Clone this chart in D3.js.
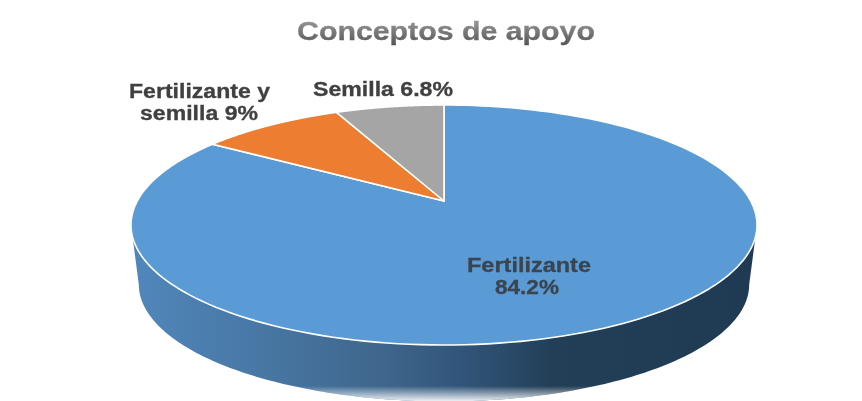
<!DOCTYPE html>
<html lang="es">
<head>
<meta charset="UTF-8">
<title>Conceptos de apoyo</title>
<script src="https://d3js.org/d3.v7.min.js"></script>
<style>
    html,body{margin:0;padding:0;background:#fff;}
    svg{display:block;}
    text{font-family:"Liberation Sans",Arial,sans-serif;font-weight:bold;}
</style>
</head>
<body>
<svg id="chart" width="862" height="401"></svg>
<script>
const categories = ['Fertilizante', 'Fertilizante y semilla', 'Semilla'];
const values = [84.2, 9, 6.8];
const colors = ['#5b9bd5', '#ed7d31', '#a5a5a5'];

const width = 862, height = 401;
const cx = 444, cy = 201;          // where the slices meet
const rx = 306.7, ry = 115.2;      // disc size before perspective
const persp = 0.2;                 // near edge looks bigger than far edge
const depth = 60;

const svg = d3.select('#chart');
const defs = svg.append('defs');

// circle point -> screen, angle 0 at the top going clockwise
function project(a, scale = 1, dy = 0) {
    const u = Math.sin(a), v = -Math.cos(a);
    const w = 1 - persp * v;
    return [cx + scale * rx * u / w, cy + dy + scale * ry * v / w];
}

const line = d3.line();
const pie = d3.pie().sort(null).value(d => d)(values);
const rim = (a0, a1, scale, dy) => d3.range(0, 1.0001, 1 / 180)
    .map(t => project(a0 + (a1 - a0) * t, scale, dy));

// side wall shading
const wallGrad = defs.append('linearGradient')
    .attr('id', 'wall').attr('gradientUnits', 'userSpaceOnUse')
    .attr('x1', 131).attr('x2', 757).attr('y1', 0).attr('y2', 0);
[[0, '#5087bb'], [0.2, '#4878a5'], [0.4, '#3f668c'], [0.53, '#31557a'], [0.67, '#233f58'], [1, '#1f3a52']]
    .forEach(s => wallGrad.append('stop').attr('offset', s[0]).attr('stop-color', s[1]));

const fade = defs.append('linearGradient')
    .attr('id', 'fade').attr('gradientUnits', 'userSpaceOnUse')
    .attr('x1', 0).attr('x2', 0).attr('y1', 386).attr('y2', 401);
fade.append('stop').attr('offset', 0).attr('stop-color', '#fff').attr('stop-opacity', 0);
fade.append('stop').attr('offset', 1).attr('stop-color', '#fff').attr('stop-opacity', 0.9);

// wall runs between the widest points of the disc
const aLeft = Math.acos(-persp), aRight = 2 * Math.PI - aLeft;
const wallPts = rim(aLeft, aRight, 1, 0).concat(rim(aRight, aLeft, 0.975, depth));
svg.append('path').attr('d', line(wallPts) + 'Z').attr('fill', 'url(#wall)');
svg.append('path').attr('d', line(wallPts) + 'Z').attr('fill', 'url(#fade)');

// top face
svg.selectAll('.slice')
    .data(pie)
    .join('path')
    .attr('class', 'slice')
    .attr('fill', (d, i) => colors[i])
    .attr('stroke', '#fff')
    .attr('stroke-width', 1.6)
    .attr('stroke-linejoin', 'round')
    .attr('d', d => line([[cx, cy]].concat(rim(d.startAngle, d.endAngle))) + 'Z');

// text
const blur = defs.append('filter').attr('id', 'soft');
blur.append('feGaussianBlur').attr('stdDeviation', 0.4);

const titleGrad = defs.append('linearGradient')
    .attr('id', 'titleFill').attr('x1', 0).attr('x2', 0).attr('y1', 0).attr('y2', 1);
titleGrad.append('stop').attr('offset', 0).attr('stop-color', '#a0a0a0');
titleGrad.append('stop').attr('offset', 1).attr('stop-color', '#555555');

const labelText = ['Conceptos de apoyo', 'Fertilizante y', 'semilla 9%', 'Semilla 6.8%', 'Fertilizante', '84.2%'];
const labelX = [446, 199.5, 199, 383, 529, 527];
const labelY = [40, 98, 120, 96, 272, 294];
const labelLen = [298, 141, 118, 140, 124, 64];
const labelSize = [25, 20, 20, 20, 20, 20];
const labelFill = ['url(#titleFill)', '#404040', '#404040', '#404040', '#3a4450', '#3a4450'];

svg.selectAll('.lbl')
    .data(labelText)
    .join('text')
    .attr('class', 'lbl')
    .attr('x', (d, i) => labelX[i])
    .attr('y', (d, i) => labelY[i])
    .attr('text-anchor', 'middle')
    .attr('font-size', (d, i) => labelSize[i])
    .attr('textLength', (d, i) => labelLen[i])
    .attr('lengthAdjust', 'spacingAndGlyphs')
    .attr('fill', (d, i) => labelFill[i])
    .attr('stroke', (d, i) => labelFill[i])
    .attr('stroke-width', 0.3)
    .attr('filter', 'url(#soft)')
    .text(d => d);
</script>
</body>
</html>
